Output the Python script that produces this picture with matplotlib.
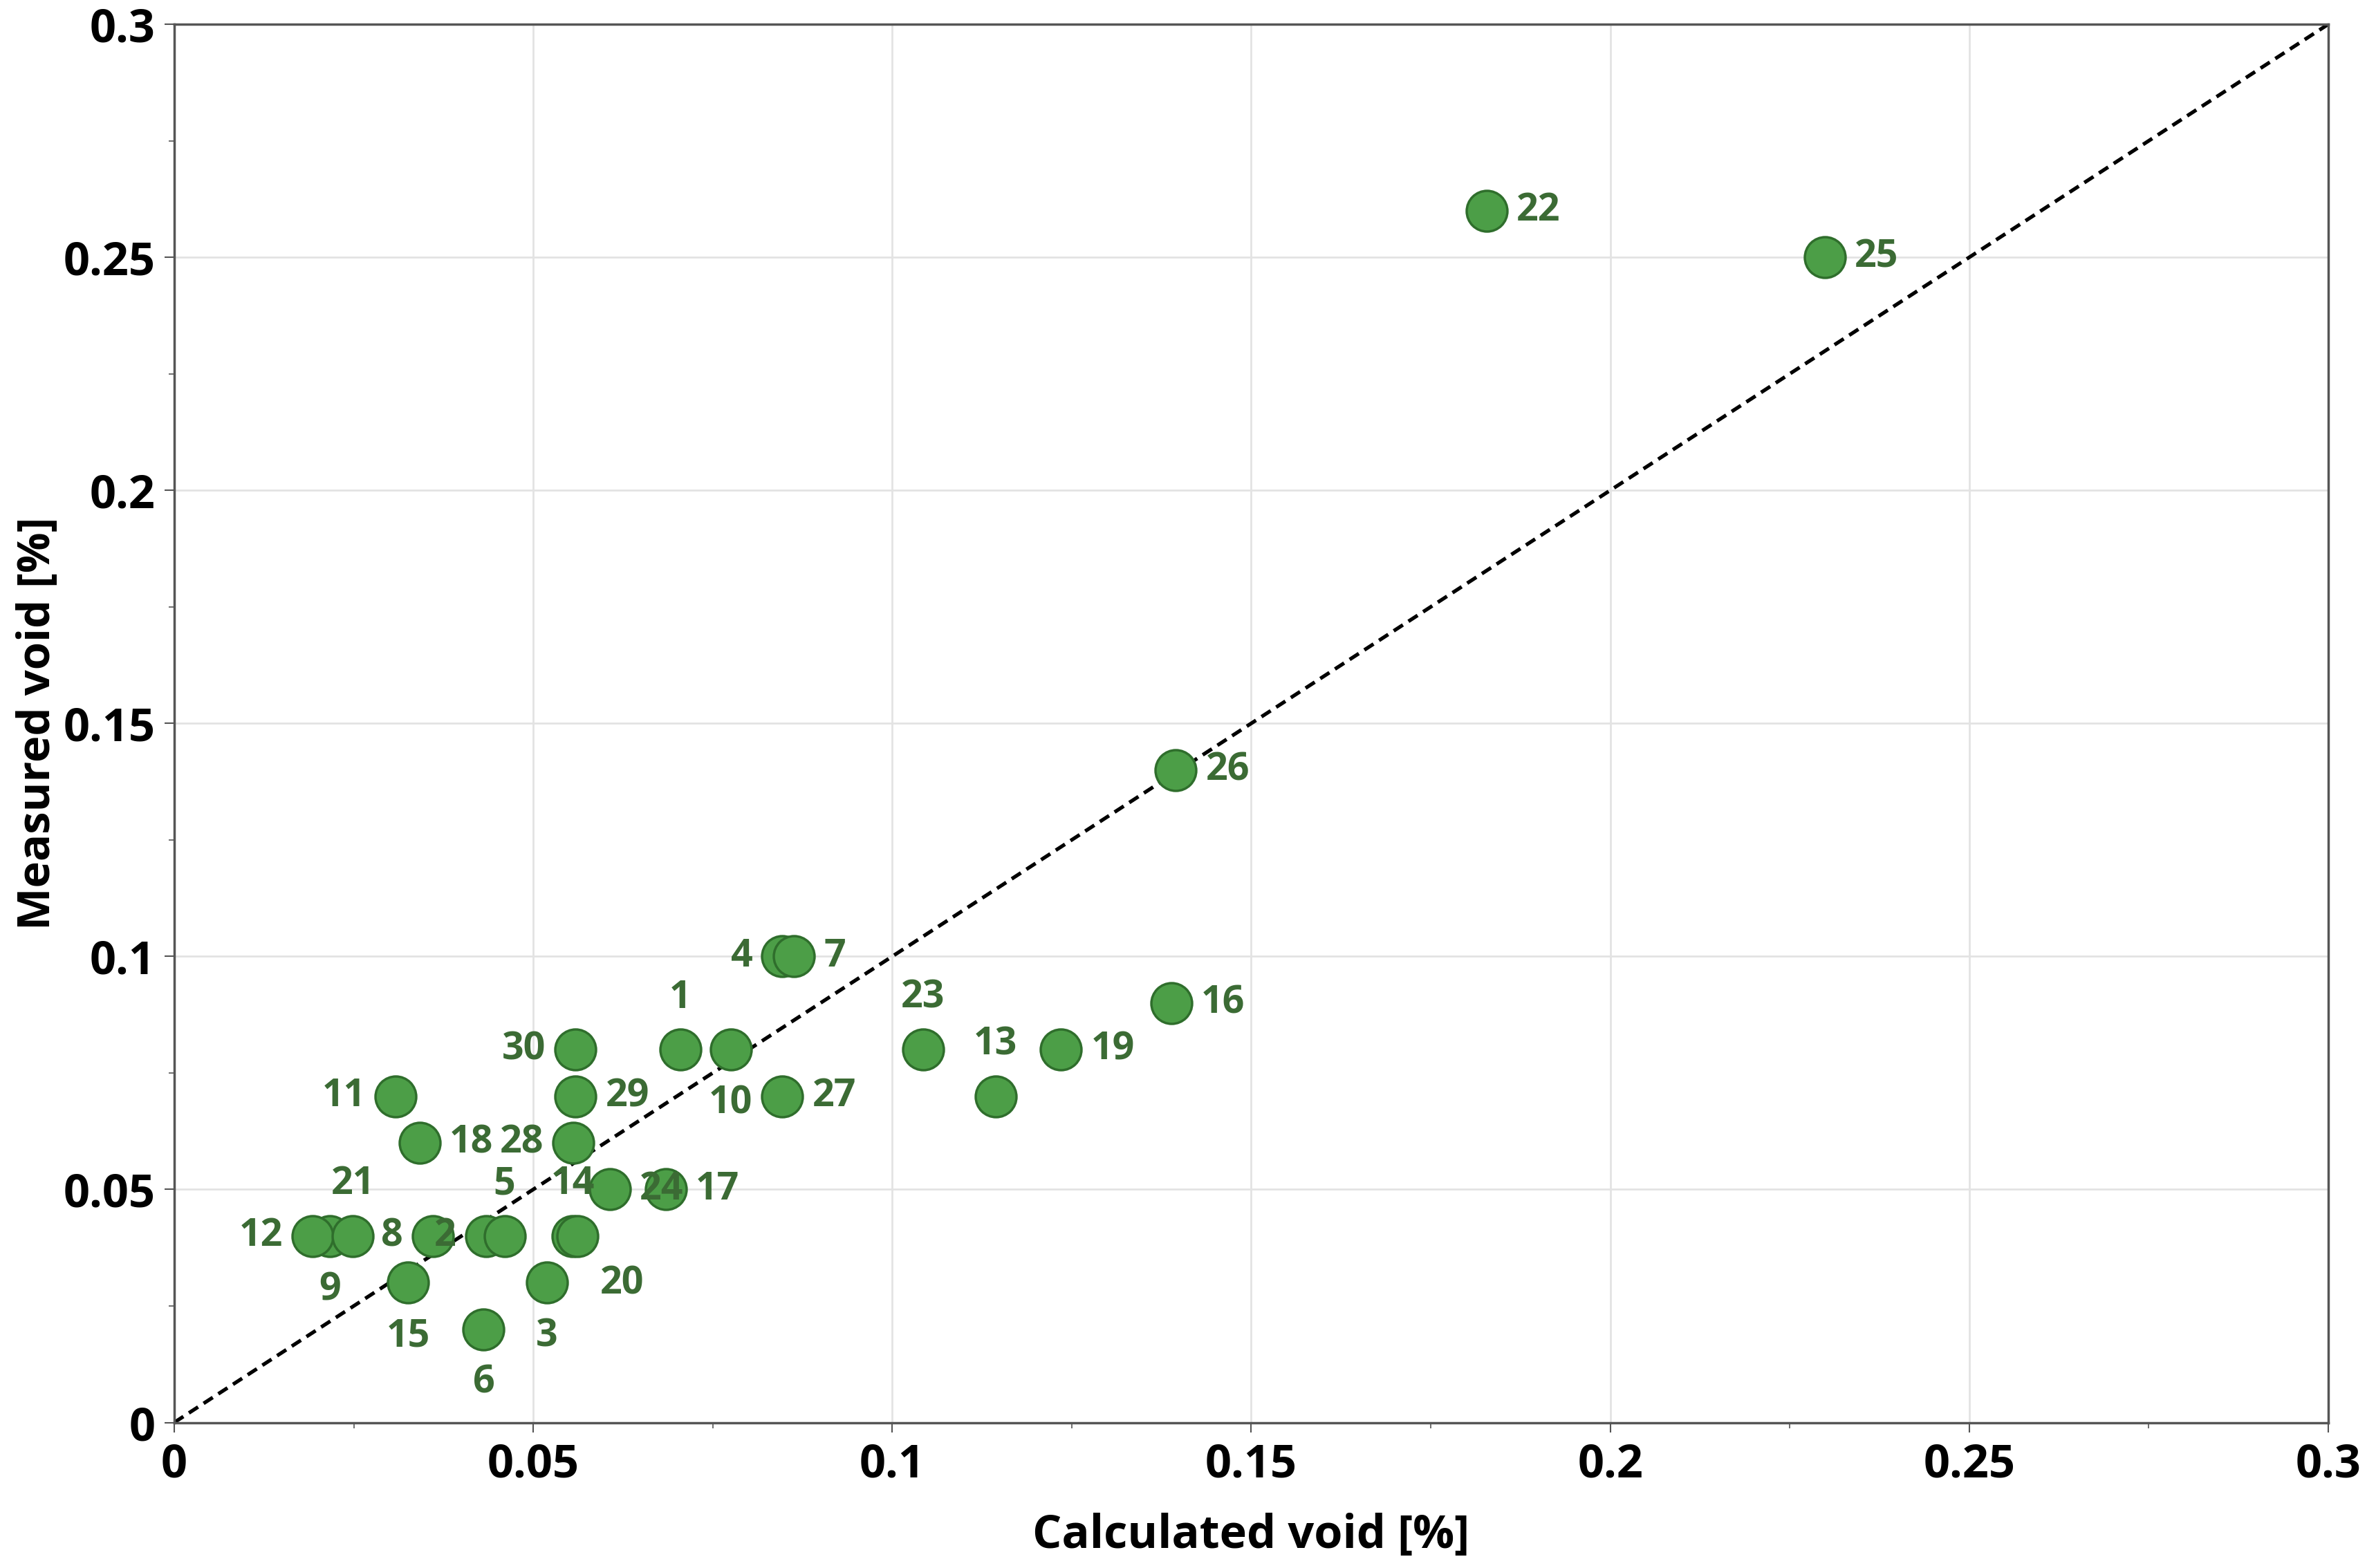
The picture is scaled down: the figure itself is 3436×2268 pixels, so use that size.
import matplotlib
matplotlib.use("Agg")
import matplotlib.pyplot as plt

plt.rcParams['font.family'] = ['Open Sans', 'DejaVu Sans']

# sample numbers and values
samples = list(range(1, 31))
calc_void = [0.0705, 0.0434, 0.0519, 0.0847, 0.0460, 0.0431, 0.0863, 0.0360, 0.0217, 0.0775,
             0.0308, 0.0193, 0.1144, 0.0555, 0.0326, 0.1389, 0.0685, 0.0342, 0.1235, 0.0562,
             0.0249, 0.1828, 0.1043, 0.0607, 0.2299, 0.1395, 0.0847, 0.0556, 0.0559, 0.0559]
meas_void = [0.08, 0.04, 0.03, 0.10, 0.04, 0.02, 0.10, 0.04, 0.04, 0.08,
             0.07, 0.04, 0.07, 0.04, 0.03, 0.09, 0.05, 0.06, 0.08, 0.04,
             0.04, 0.26, 0.08, 0.05, 0.25, 0.14, 0.07, 0.06, 0.07, 0.08]
# where each number label sits relative to its point
label_side = ['above', 'left', 'below', 'left', 'above', 'below', 'right', 'left', 'below', 'below',
              'left', 'left', 'above', 'above', 'below', 'right', 'right', 'right', 'right', 'belowright',
              'above', 'right', 'above', 'right', 'right', 'right', 'right', 'left', 'right', 'left']

ticks = [0, 0.05, 0.1, 0.15, 0.2, 0.25, 0.3]
tick_labels = ['0', '0.05', '0.1', '0.15', '0.2', '0.25', '0.3']

fill = '#4c9e47'
edge = '#2f6e2c'
text_green = '#3b6b34'

fig = plt.figure(figsize=(34.37, 22.68), dpi=100)
ax = fig.add_axes([0.0733, 0.0928, 0.9063, 0.8917])

ax.plot([0, 0.3], [0, 0.3], color='black', linestyle=(0, (3, 1.8)), linewidth=3.8, zorder=2)
ax.scatter(calc_void, meas_void, s=1800, color=fill, edgecolor=edge, linewidth=2.5, zorder=3)

offsets = {
    'right': ((31, 0), 'left', 'center'),
    'left': ((-31, 0), 'right', 'center'),
    'above': ((0, 54), 'center', 'center'),
    'below': ((0, -56), 'center', 'center'),
    'belowright': ((46, -50), 'center', 'center'),
}
for n, x, y, side in zip(samples, calc_void, meas_void, label_side):
    off, ha, va = offsets[side]
    ax.annotate(str(n), xy=(x, y), xytext=off, textcoords='offset points',
                ha=ha, va=va, fontsize=40, fontweight='bold', color=text_green, zorder=4)

ax.set_xlim(0, 0.3)
ax.set_ylim(0, 0.3)
ax.set_xticks(ticks)
ax.set_yticks(ticks)
ax.set_xticklabels(tick_labels)
ax.set_yticklabels(tick_labels)
ax.set_xticks([0.025, 0.075, 0.125, 0.175, 0.225, 0.275], minor=True)
ax.set_yticks([0.025, 0.075, 0.125, 0.175, 0.225, 0.275], minor=True)
ax.tick_params(which='major', direction='out', length=10, width=1.5, color='#555555',
               labelsize=48, pad=10)
ax.tick_params(which='minor', direction='out', length=6, width=1.2, color='#555555')
for lab in ax.get_xticklabels() + ax.get_yticklabels():
    lab.set_fontweight('bold')

ax.grid(True, which='major', color='#e3e3e3', linewidth=2)
ax.set_axisbelow(True)
for sp in ax.spines.values():
    sp.set_color('#555555')
    sp.set_linewidth(2.5)

ax.set_xlabel('Calculated void [%]', fontsize=48, fontweight='bold', labelpad=26)
ax.set_ylabel('Measured void [%]', fontsize=47, fontweight='bold', labelpad=2)

fig.savefig('out.png', dpi=100)
